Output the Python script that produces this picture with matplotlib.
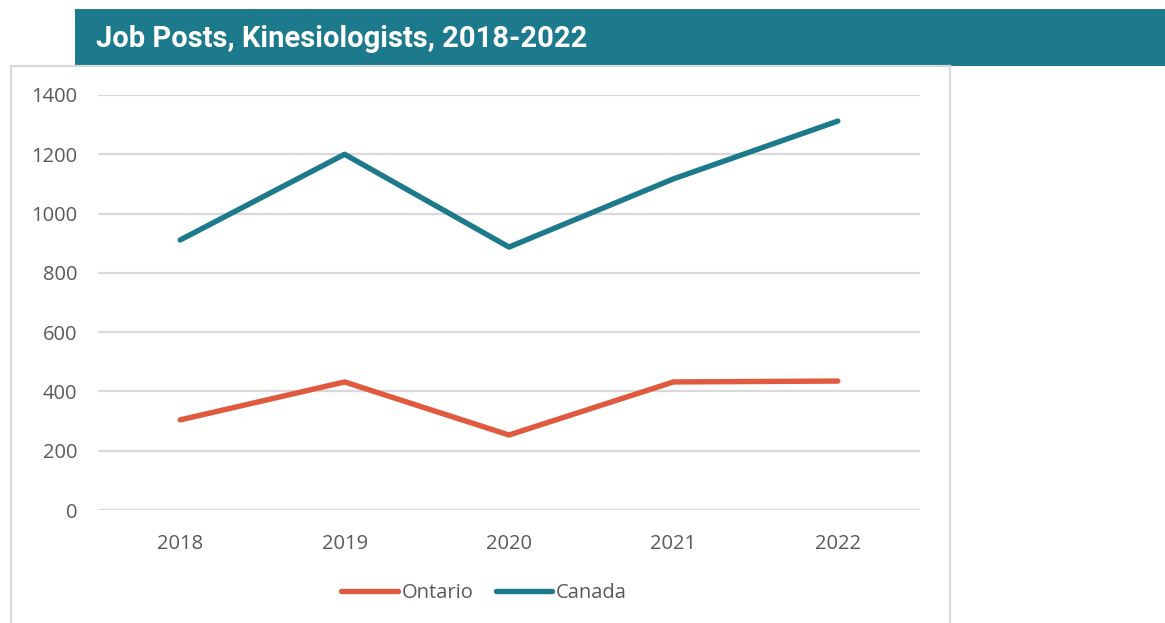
import matplotlib.pyplot as plt
from matplotlib.patches import Rectangle

# Job posts per year
years = ['2018', '2019', '2020', '2021', '2022']
ontario = [304, 432, 253, 432, 435]
canada = [911, 1200, 887, 1117, 1312]
y_ticks = [0, 200, 400, 600, 800, 1000, 1200, 1400]

teal = '#1d7a8c'
red = '#e05a40'

plt.rcParams['font.family'] = ['Open Sans', 'DejaVu Sans']

W, H = 1165, 623
fig = plt.figure(figsize=(W / 100, H / 100), dpi=100)

# header bar and chart frame
fig.patches.append(Rectangle((75 / W, 1 - 66 / H), (W - 75) / W, 57 / H,
                             transform=fig.transFigure, facecolor=teal,
                             edgecolor='none', zorder=0))
fig.patches.append(Rectangle((11 / W, -0.05), (950 - 11) / W, 1 - 66 / H + 0.05,
                             transform=fig.transFigure, facecolor='none',
                             edgecolor='#d9d9d9', linewidth=1.6, zorder=0))
fig.text(96 / W, 1 - 39 / H, 'Job Posts, Kinesiologists, 2018-2022',
         color='white', fontsize=21, fontweight='bold', family='Roboto',
         va='center', ha='left')

ax = fig.add_axes([98 / W, 1 - 510 / H, (920 - 98) / W, (510 - 95) / H])
x = range(len(years))
ax.plot(x, ontario, color=red, linewidth=3.9, solid_capstyle='round',
        label='Ontario', zorder=3)
ax.plot(x, canada, color=teal, linewidth=3.9, solid_capstyle='round',
        label='Canada', zorder=3)

ax.set_xlim(-0.5, len(years) - 0.5)
ax.set_ylim(0, 1400)
ax.set_xticks(list(x))
ax.set_xticklabels(years)
ax.set_yticks(y_ticks)
ax.yaxis.grid(True, color='#d9d9d9', linewidth=1.6)
ax.set_axisbelow(True)
for s in ax.spines.values():
    s.set_visible(False)
ax.tick_params(length=0, labelsize=14.5, labelcolor='#595959')
ax.tick_params(axis='x', pad=17)
ax.tick_params(axis='y', pad=15)

leg = fig.legend(loc='center', bbox_to_anchor=(484 / W, 1 - 593 / H),
                 ncol=2, frameon=False, fontsize=14.5, handlelength=2.8,
                 handletextpad=0.2, columnspacing=1.1)
for t in leg.get_texts():
    t.set_color('#595959')

fig.savefig('out.png', dpi=100)
